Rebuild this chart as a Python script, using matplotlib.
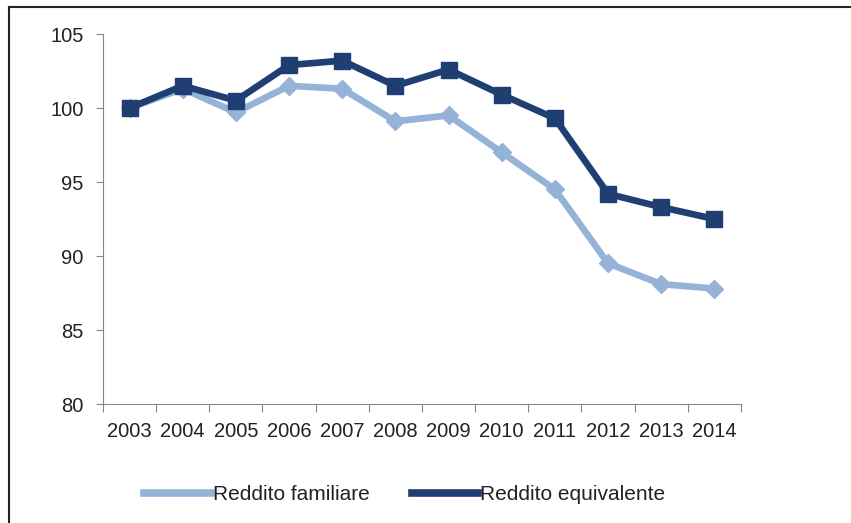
import matplotlib.pyplot as plt
from matplotlib import font_manager
from matplotlib.lines import Line2D

years = ['2003', '2004', '2005', '2006', '2007', '2008', '2009', '2010', '2011', '2012', '2013', '2014']
familiare = [100.0, 101.3, 99.7, 101.5, 101.3, 99.1, 99.5, 97.0, 94.5, 89.5, 88.1, 87.8]
equivalente = [100.0, 101.5, 100.5, 102.9, 103.2, 101.5, 102.6, 100.9, 99.3, 94.2, 93.3, 92.5]

names = {f.name for f in font_manager.fontManager.ttflist}
fam = 'Liberation Sans Narrow' if 'Liberation Sans Narrow' in names else 'Liberation Sans'
plt.rcParams['font.family'] = [fam, 'DejaVu Sans']

light = '#95b3d7'
dark = '#1f3f73'
grey = '#8c8680'
txt = '#222222'

fig = plt.figure(figsize=(8.51, 5.23), dpi=100)
ax = fig.add_axes([103 / 851, 1 - 404 / 523, (741 - 103) / 851, (404 - 34) / 523])

x = list(range(len(years)))
ax.plot(x, familiare, color=light, lw=4.8, marker='D', ms=9, label='Reddito familiare')
ax.plot(x, equivalente, color=dark, lw=4.8, marker='s', ms=11.5, label='Reddito equivalente')

ax.set_xlim(-0.5, len(years) - 0.5)
ax.set_ylim(80, 105)
ax.set_yticks([80, 85, 90, 95, 100, 105])
ax.set_xticks([i + 0.5 for i in range(-1, len(years))])
ax.set_xticklabels([])
ax.set_xticks(x, minor=True)
ax.set_xticklabels(years, minor=True)
ax.tick_params(axis='x', which='major', length=6, direction='out', color=grey)
ax.tick_params(axis='x', which='minor', length=0, pad=13, labelsize=14.5, labelcolor=txt)
ax.tick_params(axis='y', length=5, direction='out', color=grey, labelsize=14.5, labelcolor=txt, pad=9)

for s in ['top', 'right']:
    ax.spines[s].set_visible(False)
for s in ['left', 'bottom']:
    ax.spines[s].set_color(grey)

handles = [Line2D([], [], color=light, lw=5.5), Line2D([], [], color=dark, lw=5.5)]
fig.legend(handles, ['Reddito familiare', 'Reddito equivalente'], loc='center',
           bbox_to_anchor=(405 / 851, 1 - 495 / 523), ncol=2, frameon=False,
           fontsize=15, handlelength=3.2, handletextpad=0.1, columnspacing=2,
           labelcolor=txt)

fig.add_artist(Line2D([9 / 851, 1], [1 - 7 / 523, 1 - 7 / 523], color=txt, lw=1.5))
fig.add_artist(Line2D([9 / 851, 9 / 851], [0, 1 - 7 / 523], color=txt, lw=1.5))

fig.savefig('out.png', dpi=100)
